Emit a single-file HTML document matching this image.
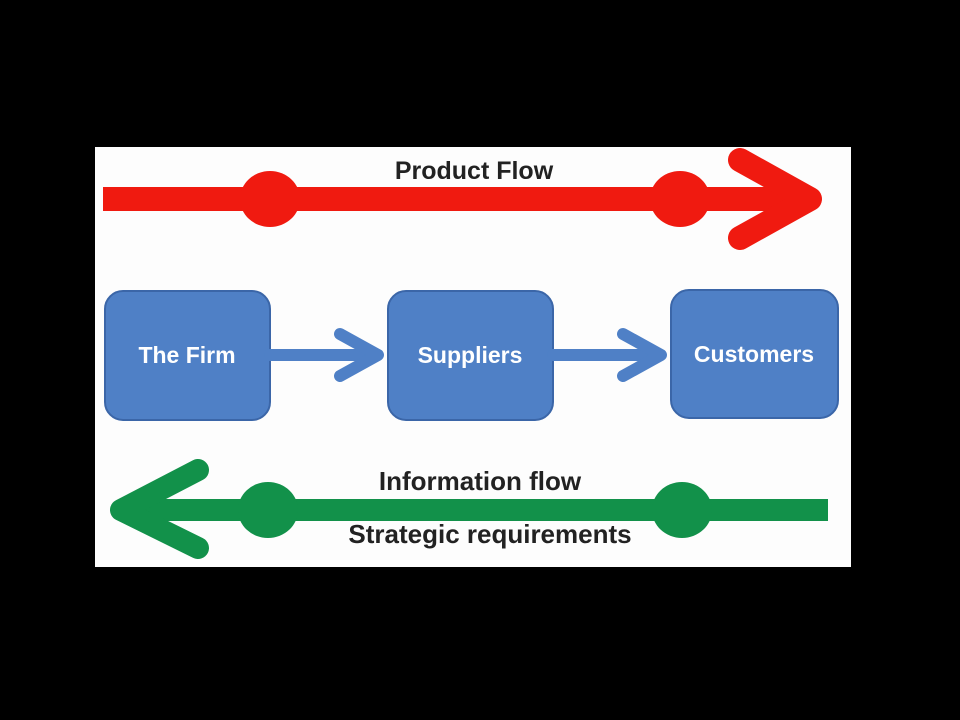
<!DOCTYPE html>
<html><head><style>
html,body{margin:0;padding:0;background:#000;}
body{width:960px;height:720px;position:relative;overflow:hidden;}
svg{position:absolute;left:0;top:0;}
text{font-family:"Liberation Sans",sans-serif;font-weight:bold;}
</style></head><body>
<svg width="960" height="720" viewBox="0 0 960 720">
<rect x="95" y="147" width="756" height="420" fill="#fdfdfd"/>
<!-- red product flow -->
<line x1="103" y1="199" x2="800" y2="199" stroke="#f01a10" stroke-width="24"/>
<ellipse cx="270" cy="199" rx="30" ry="28" fill="#f01a10"/>
<ellipse cx="680" cy="199" rx="30" ry="28" fill="#f01a10"/>
<polyline points="740,160 810,199 740,238" fill="none" stroke="#f01a10" stroke-width="24" stroke-linecap="round" stroke-linejoin="round"/>
<text x="474" y="179" font-size="25" text-anchor="middle" fill="#222">Product Flow</text>
<!-- boxes -->
<g fill="#4f80c6" stroke="#3b66a8" stroke-width="2">
<rect x="105" y="291" width="165" height="129" rx="18"/>
<rect x="388" y="291" width="165" height="129" rx="18"/>
<rect x="671" y="290" width="167" height="128" rx="18"/>
</g>
<g stroke="#4f80c6" stroke-width="12" fill="none" stroke-linecap="round" stroke-linejoin="round">
<line x1="270" y1="355" x2="375" y2="355"/>
<polyline points="340,334 378,355 340,376"/>
<line x1="553" y1="355" x2="658" y2="355"/>
<polyline points="623,334 661,355 623,376"/>
</g>
<g fill="#fff" font-size="23" text-anchor="middle">
<text x="187" y="363">The Firm</text>
<text x="470" y="363">Suppliers</text>
<text x="754" y="362">Customers</text>
</g>
<!-- green info flow -->
<line x1="125" y1="510" x2="828" y2="510" stroke="#12914a" stroke-width="22"/>
<ellipse cx="268" cy="510" rx="30" ry="28" fill="#12914a"/>
<ellipse cx="682" cy="510" rx="30" ry="28" fill="#12914a"/>
<polyline points="198,470 121,510 198,548" fill="none" stroke="#12914a" stroke-width="22" stroke-linecap="round" stroke-linejoin="round"/>
<text x="480" y="490" font-size="26" text-anchor="middle" fill="#222">Information flow</text>
<text x="490" y="543" font-size="26" text-anchor="middle" fill="#222">Strategic requirements</text>
</svg>
</body></html>
